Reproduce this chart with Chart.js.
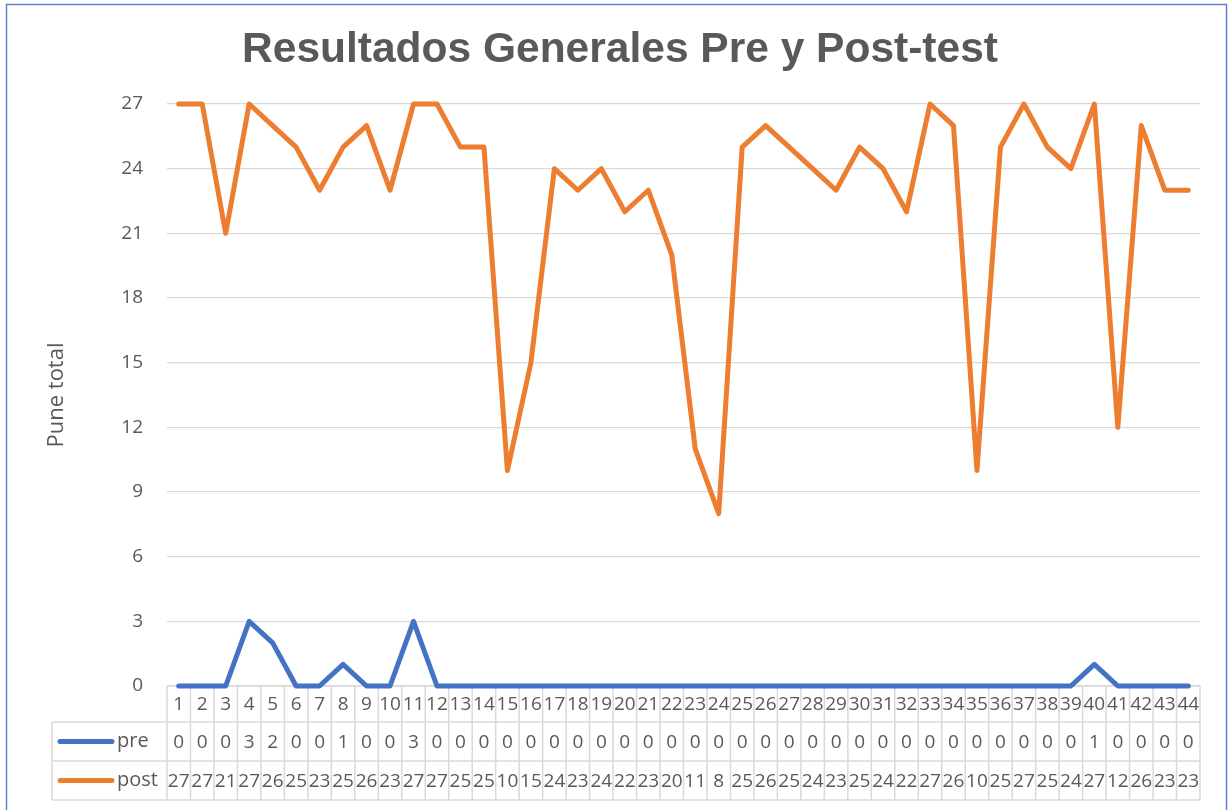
<!DOCTYPE html>
<html lang="es">
<head>
<meta charset="utf-8">
<title>Resultados Generales Pre y Post-test</title>
<script src="https://cdn.jsdelivr.net/npm/chart.js@4.4.1/dist/chart.umd.min.js"></script>
<style>
    html, body { margin: 0; padding: 0; background: #fff; }
    #chart { display: block; }
</style>
</head>
<body>
<canvas id="chart" width="1231" height="810"></canvas>
<script>
// Datos del gráfico
const categories = ['1', '2', '3', '4', '5', '6', '7', '8', '9', '10', '11', '12', '13', '14', '15', '16', '17', '18', '19', '20', '21', '22',
    '23', '24', '25', '26', '27', '28', '29', '30', '31', '32', '33', '34', '35', '36', '37', '38', '39', '40', '41', '42', '43', '44'];
const preValues = [0, 0, 0, 3, 2, 0, 0, 1, 0, 0, 3, 0, 0, 0, 0, 0, 0, 0, 0, 0, 0, 0,
    0, 0, 0, 0, 0, 0, 0, 0, 0, 0, 0, 0, 0, 0, 0, 0, 0, 1, 0, 0, 0, 0];
const postValues = [27, 27, 21, 27, 26, 25, 23, 25, 26, 23, 27, 27, 25, 25, 10, 15, 24, 23, 24, 22, 23, 20,
    11, 8, 25, 26, 25, 24, 23, 25, 24, 22, 27, 26, 10, 25, 27, 25, 24, 27, 12, 26, 23, 23];
const seriesNames = ['pre', 'post'];

const textColor = '#595959';
const gridColor = '#D9D9D9';
const colors = { pre: '#4472C4', post: '#ED7D31' };

// Tabla de datos bajo el gráfico (estilo Excel)
const dataTablePlugin = {
    id: 'dataTable',
    beforeDraw(chart) {
        const { ctx } = chart;
        ctx.save();
        ctx.fillStyle = '#fff';
        ctx.fillRect(0, 0, chart.width, chart.height);
        ctx.restore();
    },
    beforeDatasetsDraw(chart) {
        const { ctx, chartArea } = chart;
        const x = chart.scales.x;
        const cellW = (chartArea.right - chartArea.left) / categories.length;
        const rows = [chartArea.bottom, chartArea.bottom + 36, chartArea.bottom + 75, chartArea.bottom + 114];
        const legendLeft = 52;

        ctx.save();
        ctx.strokeStyle = gridColor;
        ctx.lineWidth = 1.5;
        ctx.beginPath();
        // líneas horizontales
        ctx.moveTo(chartArea.left, rows[0]);
        ctx.lineTo(chartArea.right, rows[0]);
        for (let r = 1; r < rows.length; r++) {
            ctx.moveTo(legendLeft, rows[r]);
            ctx.lineTo(chartArea.right, rows[r]);
        }
        // líneas verticales
        for (let i = 0; i <= categories.length; i++) {
            const px = chartArea.left + i * cellW;
            ctx.moveTo(px, rows[0]);
            ctx.lineTo(px, rows[3]);
        }
        ctx.moveTo(legendLeft, rows[1]);
        ctx.lineTo(legendLeft, rows[3]);
        ctx.stroke();

        // textos
        ctx.fillStyle = textColor;
        ctx.font = '19px "Open Sans"';
        ctx.textAlign = 'center';
        ctx.textBaseline = 'middle';
        const rowMid = (r) => (rows[r] + rows[r + 1]) / 2 + 1;
        categories.forEach((c, i) => {
            const px = x.getPixelForValue(i);
            ctx.fillText(c, px, rowMid(0));
            ctx.fillText(String(preValues[i]), px, rowMid(1));
            ctx.fillText(String(postValues[i]), px, rowMid(2));
        });

        // leyenda en la tabla
        [['pre', 1], ['post', 2]].forEach(([name, r]) => {
            const y = rowMid(r) - 1;
            ctx.strokeStyle = colors[name];
            ctx.lineWidth = 5;
            ctx.lineCap = 'round';
            ctx.beginPath();
            ctx.moveTo(60, y);
            ctx.lineTo(112, y);
            ctx.stroke();
            ctx.fillStyle = textColor;
            ctx.font = '20px "Open Sans"';
            ctx.textAlign = 'left';
            ctx.fillText(name, 117, y);
        });
        ctx.restore();
    },
    afterDraw(chart) {
        const { ctx } = chart;
        ctx.save();
        ctx.strokeStyle = '#5B82CC';
        ctx.lineWidth = 1.5;
        ctx.strokeRect(6.5, 4.5, 1220, 820);
        ctx.restore();
    }
};

new Chart(document.getElementById('chart'), {
    type: 'line',
    data: {
        labels: categories,
        datasets: [
            {
                label: seriesNames[0],
                data: preValues,
                borderColor: colors.pre,
                backgroundColor: colors.pre,
                borderWidth: 5,
                borderCapStyle: 'round',
                borderJoinStyle: 'round',
                pointRadius: 0,
                tension: 0,
                clip: false
            },
            {
                label: seriesNames[1],
                data: postValues,
                borderColor: colors.post,
                backgroundColor: colors.post,
                borderWidth: 5,
                borderCapStyle: 'round',
                borderJoinStyle: 'round',
                pointRadius: 0,
                tension: 0,
                clip: false
            }
        ]
    },
    options: {
        responsive: false,
        animation: false,
        layout: { padding: { left: 40, right: 31, top: 0, bottom: 124 } },
        plugins: {
            legend: { display: false },
            tooltip: { enabled: false },
            title: {
                display: true,
                text: 'Resultados Generales Pre y Post-test',
                color: textColor,
                font: { family: '"Liberation Sans", Arial, sans-serif', size: 42.5, weight: 'bold' },
                padding: { top: 25, bottom: 28 }
            }
        },
        scales: {
            x: {
                display: false,
                offset: true
            },
            y: {
                min: 0,
                max: 27,
                ticks: {
                    stepSize: 3,
                    padding: 24,
                    color: textColor,
                    font: { family: '"Open Sans"', size: 19 }
                },
                grid: { color: gridColor, lineWidth: 1.3, drawTicks: false },
                border: { display: false },
                title: {
                    display: true,
                    text: 'Pune total',
                    color: textColor,
                    font: { family: '"Open Sans"', size: 22 },
                    padding: { top: 4, bottom: 0 }
                },
                afterFit(scale) {
                    scale.width = 127;
                }
            }
        }
    },
    plugins: [dataTablePlugin]
});
</script>
</body>
</html>
